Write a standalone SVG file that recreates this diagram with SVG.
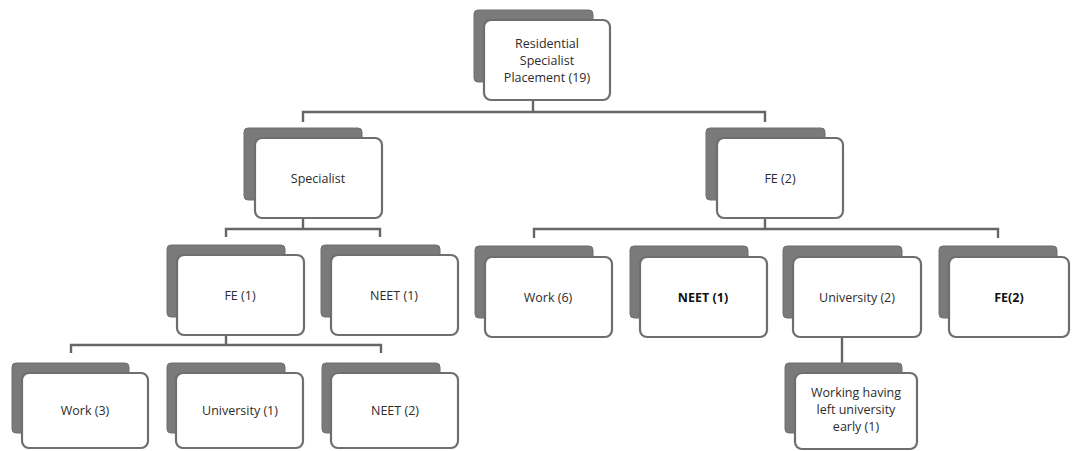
<svg xmlns="http://www.w3.org/2000/svg" width="1072" height="451" viewBox="0 0 1072 451">
<style>
.bk{fill:#7a7a7a;stroke:#6e6e6e;stroke-width:1}
.fr{fill:#ffffff;stroke:#6e6e6e;stroke-width:2.2}
.t{font-family:"Open Sans","Liberation Sans",sans-serif;font-size:12.5px;fill:#2c2c2c;text-anchor:middle}
.b{font-weight:bold;fill:#111}
.c{fill:none;stroke:#666;stroke-width:2.4}
</style>
<rect width="1072" height="451" fill="#ffffff"/>
<g id="connectors">
<path class="c" d="M533,100V112M303,122V112H765V122"/>
<path class="c" d="M303,218V229M226,237V229H380V237"/>
<path class="c" d="M765,218V229M534,238V229H998V238"/>
<path class="c" d="M226,335V345M71,353V345H381V353"/>
<path class="c" d="M842,337V363"/>
</g>
<g id="n-top">
<rect class="bk" x="474" y="10" width="119" height="72" rx="4"/>
<rect class="fr" x="484" y="20" width="126" height="80" rx="7"/>
<text class="t" x="547" y="48">Residential</text>
<text class="t" x="547" y="65">Specialist</text>
<text class="t" x="547" y="82">Placement (19)</text>
</g>
<g id="n-specialist">
<rect class="bk" x="244" y="128" width="118" height="72" rx="4"/>
<rect class="fr" x="255" y="138" width="127" height="80" rx="7"/>
<text class="t" x="318" y="183">Specialist</text>
</g>
<g id="n-fe2">
<rect class="bk" x="706" y="128" width="119" height="72" rx="4"/>
<rect class="fr" x="717" y="138" width="126" height="80" rx="7"/>
<text class="t" x="780" y="183">FE (2)</text>
</g>
<g id="n-fe1">
<rect class="bk" x="167" y="245" width="118" height="72" rx="4"/>
<rect class="fr" x="177" y="255" width="127" height="80" rx="7"/>
<text class="t" x="240" y="300">FE (1)</text>
</g>
<g id="n-neet1a">
<rect class="bk" x="321" y="245" width="119" height="72" rx="4"/>
<rect class="fr" x="331" y="255" width="127" height="80" rx="7"/>
<text class="t" x="394" y="300">NEET (1)</text>
</g>
<g id="n-work6">
<rect class="bk" x="475" y="246" width="118" height="72" rx="4"/>
<rect class="fr" x="485" y="257" width="127" height="80" rx="7"/>
<text class="t" x="548" y="302">Work (6)</text>
</g>
<g id="n-neet1b">
<rect class="bk" x="630" y="246" width="118" height="72" rx="4"/>
<rect class="fr" x="640" y="257" width="127" height="80" rx="7"/>
<text class="t b" x="703" y="302">NEET (1)</text>
</g>
<g id="n-univ2">
<rect class="bk" x="783" y="246" width="119" height="72" rx="4"/>
<rect class="fr" x="793" y="257" width="128" height="80" rx="7"/>
<text class="t" x="857" y="302">University (2)</text>
</g>
<g id="n-fe2b">
<rect class="bk" x="939" y="246" width="118" height="72" rx="4"/>
<rect class="fr" x="949" y="257" width="120" height="80" rx="7"/>
<text class="t b" x="1009" y="302">FE(2)</text>
</g>
<g id="n-work3">
<rect class="bk" x="12" y="363" width="117" height="70" rx="4"/>
<rect class="fr" x="22" y="373" width="126" height="75" rx="7"/>
<text class="t" x="85" y="415">Work (3)</text>
</g>
<g id="n-univ1">
<rect class="bk" x="167" y="363" width="118" height="70" rx="4"/>
<rect class="fr" x="176" y="373" width="127" height="75" rx="7"/>
<text class="t" x="240" y="415">University (1)</text>
</g>
<g id="n-neet2">
<rect class="bk" x="322" y="363" width="118" height="70" rx="4"/>
<rect class="fr" x="331" y="373" width="127" height="75" rx="7"/>
<text class="t" x="395" y="415">NEET (2)</text>
</g>
<g id="n-working">
<rect class="bk" x="785" y="363" width="117" height="70" rx="4"/>
<rect class="fr" x="795" y="373" width="122" height="76" rx="7"/>
<text class="t" x="856" y="397">Working having</text>
<text class="t" x="856" y="414">left university</text>
<text class="t" x="856" y="431">early (1)</text>
</g>
</svg>
